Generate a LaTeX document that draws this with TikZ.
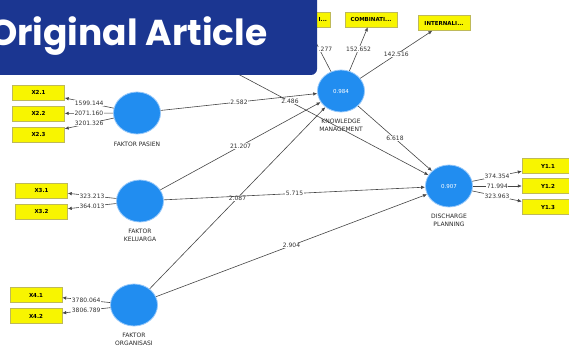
\documentclass[tikz,border=0pt]{standalone}
\usepackage{fontspec}
\setmainfont{DejaVu Sans}
\newfontfamily\bannerfont{Poppins}
\usetikzlibrary{arrows.meta,shapes.geometric,positioning}

\definecolor{plsblue}{RGB}{33,141,240}
\definecolor{plsring}{RGB}{150,200,250}
\definecolor{plsyellow}{RGB}{248,245,0}
\definecolor{boxedge}{RGB}{190,185,90}
\definecolor{bannerblue}{RGB}{27,54,145}
\definecolor{linegray}{RGB}{70,70,70}

\tikzset{
  latent/.style={ellipse, fill=plsblue, draw=plsring, line width=0.8pt,
    minimum width=47pt, minimum height=42pt, inner sep=0pt, text=white,
    font=\fontsize{5.5}{6}\selectfont},
  indbox/.style={rectangle, fill=plsyellow, draw=boxedge, line width=0.4pt,
    minimum width=52pt, minimum height=15pt, inner sep=0pt,
    font=\fontsize{5.5}{6}\selectfont\bfseries},
  latname/.style={align=center, inner sep=1pt, text=black!85,
    font=\fontsize{6}{8}\selectfont},
  link/.style={draw=linegray, line width=0.6pt, -{Latex[length=4pt,width=3.5pt]}},
  val/.style={fill=white, inner sep=0.6pt, text=black!80,
    font=\fontsize{6}{7}\selectfont}
}

\begin{document}
\begin{tikzpicture}[x=1pt,y=-1pt]
  \useasboundingbox (0,0) rectangle (569,347);
  % Latent variables
  \node[latent] (pasien) at (137,113) {};
  \node[latent] (keluarga) at (140,201) {};
  \node[latent] (organisasi) at (134,305) {};
  \node[latent] (km) at (341,91) {0.984};
  \node[latent] (dp) at (449,186) {0.907};
  \node[latname, below=6pt of pasien] (lpasien) {FAKTOR PASIEN};
  \node[latname, below=5pt of keluarga] (lkeluarga) {FAKTOR\\KELUARGA};
  \node[latname, below=5pt of organisasi] (lorganisasi) {FAKTOR\\ORGANISASI};
  \node[latname, below=5pt of km] (lkm) {KNOWLEDGE\\MANAGEMENT};
  \node[latname, below=5pt of dp] (ldp) {DISCHARGE\\PLANNING};
  \coordinate (hidden) at (140,22);

  % Indicators
  \foreach \i/\y/\v in {1/92.5/1599.144, 2/113.5/2071.160, 3/134.5/3201.326} {
    \node[indbox] (x2\i) at (38.5,\y) {X2.\i};
    \draw[link] (pasien) -- node[val] {\v} (x2\i);
  }
  \foreach \i/\y/\v in {1/190.5/323.213, 2/211.5/364.013} {
    \node[indbox] (x3\i) at (41.5,\y) {X3.\i};
    \draw[link] (keluarga) -- node[val] {\v} (x3\i);
  }
  \foreach \i/\y/\v in {1/295/3780.064, 2/316/3806.789} {
    \node[indbox] (x4\i) at (36,\y) {X4.\i};
    \draw[link] (organisasi) -- node[val] {\v} (x4\i);
  }
  \foreach \i/\y/\v in {1/166/374.354, 2/186/71.994, 3/207/323.963} {
    \node[indbox] (y1\i) at (548,\y) {Y1.\i};
    \draw[link] (dp) -- node[val] {\v} (y1\i);
  }
  \node[indbox, text width=46pt, align=right] (km1) at (304,19.5) {I...};
  \node[indbox] (km2) at (371,19.5) {COMBINATI...};
  \node[indbox] (km3) at (444,23) {INTERNALI...};
  \draw[link] (km) -- node[val, xshift=6pt] {.277} (km1);
  \draw[link] (km) -- node[val] {152.652} (km2);
  \draw[link] (km) -- node[val] {142.516} (km3);

  % Paths
  \draw[link] (pasien) -- node[val] {2.582} (km);
  \draw[link] (keluarga) -- node[val] {21.207} (km);
  \draw[link] (organisasi) -- node[val] {2.087} (km);
  \draw[link] (keluarga) -- node[val] {5.715} (dp);
  \draw[link] (organisasi) -- node[val] {2.904} (dp);
  \draw[link] (km) -- node[val] {6.618} (dp);
  \draw[link] (hidden) -- node[val, pos=0.52] {2.486} (dp);

  % Banner
  \fill[bannerblue, rounded corners=6pt] (-10,-10) rectangle (317,75);
  \node[anchor=base west, inner sep=0pt, text=white,
    font=\bannerfont\bfseries\fontsize{36}{36}\selectfont] (banner) at (-11,46) {Original Article};
\end{tikzpicture}
\end{document}
